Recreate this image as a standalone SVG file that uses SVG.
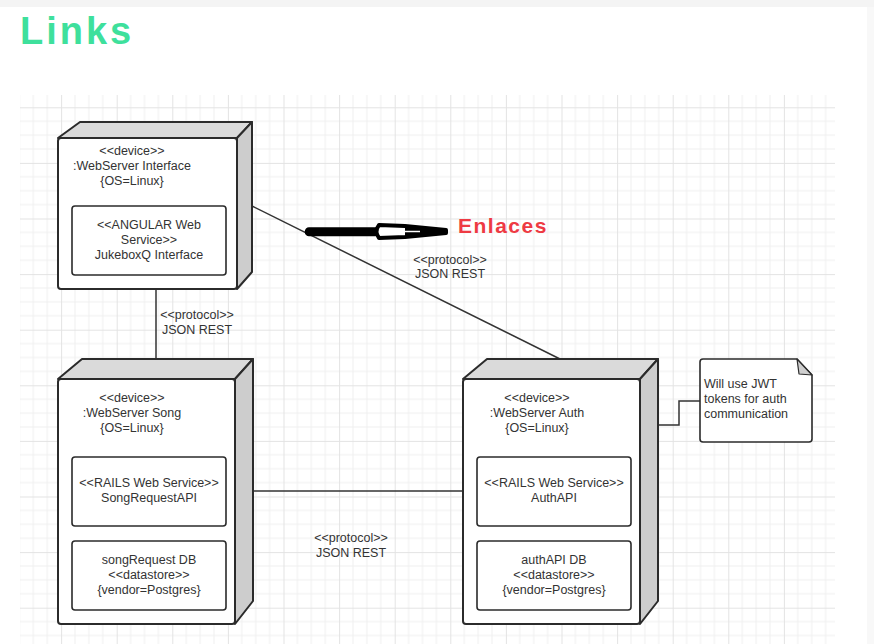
<svg xmlns="http://www.w3.org/2000/svg" width="874" height="644" viewBox="0 0 874 644">
<defs>
<pattern id="grid" patternUnits="userSpaceOnUse" x="5.5" y="51.7" width="55.6" height="55.6">
<path d="M13.9,0V55.6M27.8,0V55.6M41.7,0V55.6M0,13.9H55.6M0,27.8H55.6M0,41.7H55.6" stroke="#f0f0f0" stroke-width="1" fill="none"/>
<path d="M0.5,0V55.6M0,0.5H55.6" stroke="#e3e3e3" stroke-width="1" fill="none"/>
</pattern>
</defs>
<style>
.t{font-family:"Liberation Sans",Arial,sans-serif;font-size:12.5px;fill:#333;text-anchor:middle}
.l{text-anchor:start}
.front{fill:#fff;stroke:#2b2b2b;stroke-width:2}
.top{fill:#dadada;stroke:#2b2b2b;stroke-width:2;stroke-linejoin:round}
.side{fill:#cdcdcd;stroke:#2b2b2b;stroke-width:2;stroke-linejoin:round}
.inner{fill:#fff;stroke:#2b2b2b;stroke-width:1.6}
.conn{stroke:#333;stroke-width:1.5;fill:none}
</style>
<rect width="874" height="644" fill="#fff"/>
<rect x="0" y="0" width="874" height="7" fill="#f4f4f4"/>
<rect x="867" y="7" width="7" height="637" fill="#f8f8f8"/>
<rect x="20" y="95" width="815" height="549" fill="url(#grid)"/>
<text x="20" y="44" style="font-family:'Liberation Sans',Arial,sans-serif;font-size:38px;font-weight:bold;fill:#3ee09c;letter-spacing:3px">Links</text>

<g id="connectors">
<line class="conn" x1="156" y1="289" x2="156" y2="359"/>
<line class="conn" x1="253" y1="491" x2="463" y2="491"/>
<line class="conn" x1="252" y1="206" x2="560" y2="359"/>
<polyline class="conn" points="658,425 679,425 679,401 700,401"/>
<text class="t" x="197" y="318.5">&lt;&lt;protocol&gt;&gt;</text>
<text class="t" x="197" y="333.5">JSON REST</text>
<text class="t" x="450" y="263.5">&lt;&lt;protocol&gt;&gt;</text>
<text class="t" x="450" y="277.5">JSON REST</text>
<text class="t" x="351" y="541.5">&lt;&lt;protocol&gt;&gt;</text>
<text class="t" x="351" y="556.5">JSON REST</text>
</g>

<g id="node-interface">
<polygon class="top" points="58,138 80,122 252,122 237,138"/>
<polygon class="side" points="237,138 252,122 252,272 237,289"/>
<rect class="front" x="58" y="138" width="179" height="151" rx="3"/>
<text class="t" x="132" y="154.5">&lt;&lt;device&gt;&gt;</text>
<text class="t" x="132" y="169.5">:WebServer Interface</text>
<text class="t" x="132" y="184.5">{OS=Linux}</text>
<rect class="inner" x="72" y="206" width="154" height="69" rx="3"/>
<text class="t" x="149" y="228.5">&lt;&lt;ANGULAR Web</text>
<text class="t" x="149" y="243.5">Service&gt;&gt;</text>
<text class="t" x="149" y="258.5">JukeboxQ Interface</text>
</g>

<g id="node-song">
<polygon class="top" points="58,379 82,359 253,359 235,379"/>
<polygon class="side" points="235,379 253,359 253,601 235,624"/>
<rect class="front" x="58" y="379" width="177" height="245" rx="3"/>
<text class="t" x="132" y="401.5">&lt;&lt;device&gt;&gt;</text>
<text class="t" x="132" y="416.5">:WebServer Song</text>
<text class="t" x="132" y="431.5">{OS=Linux}</text>
<rect class="inner" x="72" y="457" width="154" height="69" rx="3"/>
<text class="t" x="149" y="486.5">&lt;&lt;RAILS Web Service&gt;&gt;</text>
<text class="t" x="149" y="501.5">SongRequestAPI</text>
<rect class="inner" x="72" y="541" width="154" height="69" rx="3"/>
<text class="t" x="149" y="563.5">songRequest DB</text>
<text class="t" x="149" y="578.5">&lt;&lt;datastore&gt;&gt;</text>
<text class="t" x="149" y="593.5">{vendor=Postgres}</text>
</g>

<g id="node-auth">
<polygon class="top" points="463,379 487,359 658,359 640,379"/>
<polygon class="side" points="640,379 658,359 658,601 640,624"/>
<rect class="front" x="463" y="379" width="177" height="245" rx="3"/>
<text class="t" x="537" y="401.5">&lt;&lt;device&gt;&gt;</text>
<text class="t" x="537" y="416.5">:WebServer Auth</text>
<text class="t" x="537" y="431.5">{OS=Linux}</text>
<rect class="inner" x="477" y="457" width="154" height="69" rx="3"/>
<text class="t" x="554" y="486.5">&lt;&lt;RAILS Web Service&gt;&gt;</text>
<text class="t" x="554" y="501.5">AuthAPI</text>
<rect class="inner" x="477" y="541" width="154" height="69" rx="3"/>
<text class="t" x="554" y="563.5">authAPI DB</text>
<text class="t" x="554" y="578.5">&lt;&lt;datastore&gt;&gt;</text>
<text class="t" x="554" y="593.5">{vendor=Postgres}</text>
</g>

<g id="note">
<path d="M703,359 H797 L812,375 V439 Q812,442 809,442 H703 Q700,442 700,439 V362 Q700,359 703,359 Z" fill="#fff" stroke="#2b2b2b" stroke-width="1.6"/>
<polygon points="797,359 812,375 799,374" fill="#cfcfcf" stroke="#2b2b2b" stroke-width="1.2" stroke-linejoin="round"/>
<text class="t l" x="704" y="387.5">Will use JWT</text>
<text class="t l" x="704" y="402.5">tokens for auth</text>
<text class="t l" x="704" y="417.5">communication</text>
</g>

<g id="enlaces">
<rect x="307" y="229.5" width="70" height="4.5" rx="2" fill="#fff" stroke="#000" stroke-width="4.5"/>
<path d="M379,225 Q374,231.5 379,238 L405,237 L446,233 L446,230 L405,226 Z" fill="#fff" stroke="#000" stroke-width="4" stroke-linejoin="round"/>
<path d="M405,226 L446,230 L446,233 L405,237 Z" fill="#000"/>
<path d="M383,231.5 H420" stroke="#fff" stroke-width="1.5"/>
<text x="458" y="233" style="font-family:'Liberation Sans',Arial,sans-serif;font-size:21px;font-weight:bold;fill:#ee3a43;letter-spacing:1.5px">Enlaces</text>
</g>
</svg>
